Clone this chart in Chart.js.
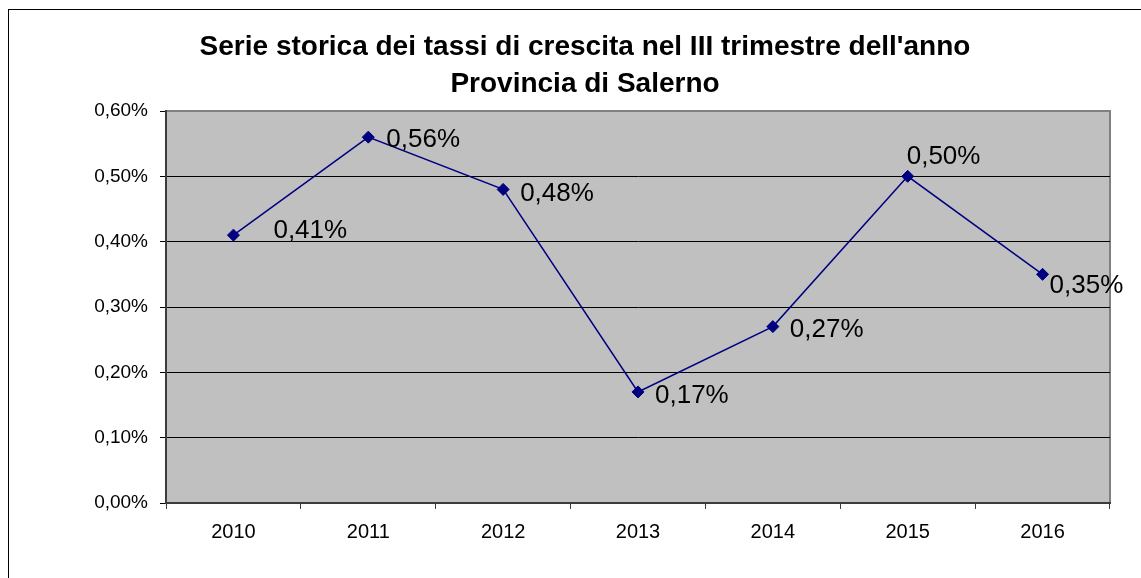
<!DOCTYPE html>
<html><head><meta charset="utf-8">
<script src="https://cdn.jsdelivr.net/npm/chart.js@4"></script>
<style>html,body{margin:0;padding:0;background:#fff;overflow:hidden}#wrap{width:1141px;height:578px;position:relative}</style>
</head><body><div id="wrap"><canvas id="c" width="1141" height="578"></canvas></div>
<script>
const categories = ['2010','2011','2012','2013','2014','2015','2016'];
const growthRates = [0.41, 0.56, 0.48, 0.17, 0.27, 0.50, 0.35];
const yTicks = [0, 0.1, 0.2, 0.3, 0.4, 0.5, 0.6];
const titleLines = ["Serie storica dei tassi di crescita nel III trimestre dell'anno", "Provincia di Salerno"];

const FONT = "'Liberation Sans', Arial, sans-serif";
const labelOffsets = [[40,3],[18,10],[17,12],[17,11],[17,10],[-1,-12],[7,19]];
const fmt = v => Number(v).toFixed(2).replace('.', ',') + '%';

const frame = {
  id: 'frame',
  beforeDraw(chart) {
    const {ctx, chartArea: a} = chart;
    ctx.save();
    ctx.fillStyle = '#fff';
    ctx.fillRect(0, 0, chart.width, chart.height);
    ctx.strokeStyle = '#000';
    ctx.lineWidth = 1;
    ctx.strokeRect(8.5, 9.5, 3000, 3000);
    ctx.fillStyle = '#c0c0c0';
    ctx.fillRect(a.left, a.top, a.right - a.left, a.bottom - a.top);
    ctx.strokeStyle = '#808080';
    ctx.lineWidth = 2;
    ctx.beginPath();
    ctx.moveTo(a.left, a.top);
    ctx.lineTo(a.right, a.top);
    ctx.lineTo(a.right, a.bottom);
    ctx.stroke();
    ctx.restore();
  }
};

const dataLabels = {
  id: 'dataLabels',
  afterDatasetsDraw(chart) {
    const {ctx} = chart;
    const meta = chart.getDatasetMeta(0);
    ctx.save();
    ctx.font = '26px ' + FONT;
    ctx.fillStyle = '#000';
    ctx.textAlign = 'left';
    ctx.textBaseline = 'alphabetic';
    meta.data.forEach((p, i) => {
      const o = labelOffsets[i];
      ctx.fillText(fmt(growthRates[i]), p.x + o[0], p.y + o[1]);
    });
    ctx.restore();
  }
};

new Chart(document.getElementById('c'), {
  type: 'line',
  data: {
    labels: categories,
    datasets: [{
      data: growthRates,
      borderColor: '#000080',
      borderWidth: 1.5,
      tension: 0,
      pointStyle: 'rectRot',
      pointRadius: 6,
      pointBackgroundColor: '#000080',
      pointBorderColor: '#000080',
      pointBorderWidth: 1,
      clip: false
    }]
  },
  options: {
    responsive: false,
    animation: false,
    devicePixelRatio: 1,
    layout: { padding: { left: 60, right: 31, top: 0, bottom: 0 } },
    plugins: {
      legend: { display: false },
      tooltip: { enabled: false },
      title: {
        display: true,
        text: titleLines,
        color: '#000',
        font: { family: FONT, size: 28, weight: 'bold', lineHeight: 37/28 },
        padding: { top: 29, bottom: 8 }
      }
    },
    scales: {
      x: {
        offset: true,
        afterFit: s => { s.height = 75; },
        grid: { offset: true, drawOnChartArea: false, tickLength: 6, color: '#3c3c3c', lineWidth: 1 },
        border: { color: '#3c3c3c', width: 2 },
        ticks: { color: '#000', font: { family: FONT, size: 20 }, padding: 11, maxRotation: 0 }
      },
      y: {
        min: 0,
        max: 0.6,
        afterFit: s => { s.width = 106; },
        afterBuildTicks: s => { s.ticks = yTicks.map(v => ({ value: v })); },
        grid: {
          color: c => (c.tick && Math.abs(c.tick.value - 0.6) < 1e-9) ? '#808080' : '#000',
          tickColor: '#000',
          tickLength: 6,
          lineWidth: 1
        },
        border: { color: '#3c3c3c', width: 2 },
        ticks: { color: '#000', font: { family: FONT, size: 19 }, padding: 12, callback: v => fmt(v) }
      }
    }
  },
  plugins: [frame, dataLabels]
});
</script>
</body></html>
